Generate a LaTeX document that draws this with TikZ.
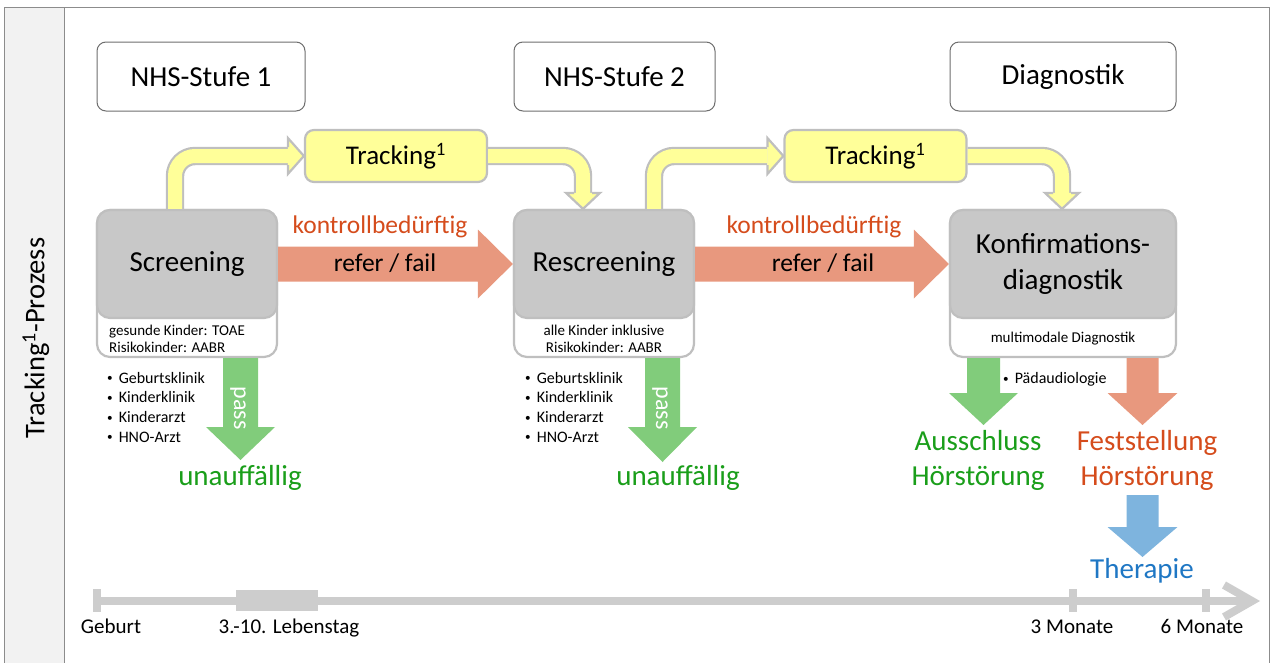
\documentclass[tikz,border=0pt]{standalone}
\usepackage{fontspec}
\setmainfont{Carlito}
\usetikzlibrary{calc}
\definecolor{boxgray}{RGB}{200,200,200}
\definecolor{bordgray}{RGB}{191,191,191}
\definecolor{headbord}{RGB}{110,110,110}
\definecolor{framegray}{RGB}{140,140,140}
\definecolor{stripfill}{RGB}{242,242,242}
\definecolor{trkyellow}{RGB}{255,255,153}
\definecolor{refred}{RGB}{232,152,126}
\definecolor{passgreen}{RGB}{129,204,123}
\definecolor{therblue}{RGB}{126,180,222}
\definecolor{txtred}{RGB}{213,76,28}
\definecolor{txtgreen}{RGB}{26,158,26}
\definecolor{txtblue}{RGB}{31,119,196}
\definecolor{linegray}{RGB}{205,205,205}
\newcommand{\fs}[2]{\fontsize{#1}{#2}\selectfont}
\newcommand{\bt}{\raisebox{1.5pt}{\scalebox{0.7}{\textbullet}}\hspace{6pt}}
% horizontal block arrow: style, from, to, half body, head length, half head
\newcommand{\rarrow}[6]{%
  \path[#1] let \p1=(#2), \p2=(#3) in
   (\x1,\y1+#4) -- (\x2-#5,\y1+#4) -- (\x2-#5,\y1+#6) -- (\x2,\y1)
   -- (\x2-#5,\y1-#6) -- (\x2-#5,\y1-#4) -- (\x1,\y1-#4) -- cycle;}
% downward block arrow
\newcommand{\darrow}[6]{%
  \path[#1] let \p1=(#2), \p2=(#3) in
   (\x1-#4,\y1) -- (\x1-#4,\y2+#5) -- (\x1-#6,\y2+#5) -- (\x1,\y2)
   -- (\x1+#6,\y2+#5) -- (\x1+#4,\y2+#5) -- (\x1+#4,\y1) -- cycle;}
\tikzset{
  headbox/.style={draw=headbord, line width=1, rounded corners=9, fill=white,
    minimum height=69, font=\fs{29}{34}},
  subbox/.style={draw=bordgray, line width=2.2, rounded corners=13, fill=white,
    minimum height=147},
  mainbox/.style={draw=bordgray, line width=2.2, rounded corners=13, fill=boxgray,
    minimum height=108, font=\fs{29}{36}, align=center},
  trkbox/.style={draw=bordgray, line width=2.2, rounded corners=9, fill=trkyellow,
    minimum width=182, minimum height=52, font=\fs{27}{32}},
  band/.style={draw=bordgray, line width=2.2, double=trkyellow, double distance=14,
    rounded corners=20},
  bandhead/.style={fill=trkyellow, draw=bordgray, line width=2.2, line join=miter},
  small/.style={font=\fs{15}{17}, inner sep=0},
  bul/.style={font=\fs{16}{19}, inner sep=0},
  big/.style={font=\fs{29}{34}, inner sep=0},
  mid/.style={font=\fs{25.5}{30}, inner sep=0},
  referfill/.style={fill=refred},
  passfill/.style={fill=passgreen},
  therfill/.style={fill=therblue},
  tline/.style={draw=linegray, line width=8},
  tick/.style={draw=linegray, line width=8},
  tlab/.style={font=\fs{21}{24}, inner sep=0, anchor=base},
}
\begin{document}
\begin{tikzpicture}[x=1pt,y=-1pt]
\useasboundingbox (0,0) rectangle (1272,662);
% frame and side strip
\fill[stripfill] (4,7) rectangle (64,664);
\draw[framegray, line width=1] (4,664) -- (4,7) -- (1269,7) -- (1269,664);
\draw[framegray, line width=1] (64,7) -- (64,664);
\node[rotate=90, font=\fs{28.5}{32}] (side) at (36,338) {Tracking\textsuperscript{1}-Prozess};

% header boxes
\node[headbox, minimum width=208] (h1) at (201,76.5) {NHS-Stufe 1};
\node[headbox, minimum width=201] (h2) at (614.5,76.5) {NHS-Stufe 2};
\node[headbox, minimum width=226] (h3) at (1063,76.5) {Diagnostik};

% main boxes
\node[subbox, minimum width=180] (scrS) at (187,283.5) {};
\node[mainbox, minimum width=180] (scr) at (187,264) {Screening};
\node[subbox, minimum width=180] (rscrS) at (604,283.5) {};
\node[mainbox, minimum width=180] (rscr) at (604,264) {Rescreening};
\node[subbox, minimum width=226] (konS) at (1063,283.5) {};
\node[mainbox, minimum width=226] (kon) at (1063,264) {Konfirmations-\\diagnostik};

\node[small, anchor=west, align=left] (scrT) at (109,338.5) {gesunde Kinder: TOAE\\Risikokinder: AABR};
\node[small, align=center] (rscrT) at (604,338.5) {alle Kinder inklusive\\Risikokinder: AABR};
\node[small] (konT) at (1063,339) {multimodale Diagnostik};

% tracking boxes
\node[trkbox] (trk1) at (396,156) {Tracking\textsuperscript{1}};
\node[trkbox] (trk2) at (875.5,156) {Tracking\textsuperscript{1}};

% yellow bent arrows
\draw[band] ([xshift=-12pt]scr.north) |- ([xshift=-16pt]trk1.west);
\filldraw[bandhead] ([xshift=-16pt,yshift=9pt]trk1.west) -- ([xshift=-16pt,yshift=18pt]trk1.west)
   -- (trk1.west) -- ([xshift=-16pt,yshift=-18pt]trk1.west) -- ([xshift=-16pt,yshift=-9pt]trk1.west);
\draw[band] (trk1.east) -| ([xshift=-21pt,yshift=16pt]rscr.north);
\filldraw[bandhead] ([xshift=-30pt,yshift=16pt]rscr.north) -- ([xshift=-38pt,yshift=16pt]rscr.north)
   -- ([xshift=-21pt]rscr.north) -- ([xshift=-4pt,yshift=16pt]rscr.north) -- ([xshift=-12pt,yshift=16pt]rscr.north);

\draw[band] ([xshift=50pt]rscr.north) |- ([xshift=-16pt]trk2.west);
\filldraw[bandhead] ([xshift=-16pt,yshift=9pt]trk2.west) -- ([xshift=-16pt,yshift=18pt]trk2.west)
   -- (trk2.west) -- ([xshift=-16pt,yshift=-18pt]trk2.west) -- ([xshift=-16pt,yshift=-9pt]trk2.west);
\draw[band] (trk2.east) -| ([xshift=-1pt,yshift=16pt]kon.north);
\filldraw[bandhead] ([xshift=-10pt,yshift=16pt]kon.north) -- ([xshift=-18pt,yshift=16pt]kon.north)
   -- ([xshift=-1pt]kon.north) -- ([xshift=16pt,yshift=16pt]kon.north) -- ([xshift=8pt,yshift=16pt]kon.north);

% refer arrows
\rarrow{referfill}{scr.east}{rscr.west}{17.5pt}{35pt}{34.5pt}
\rarrow{referfill}{rscr.east}{kon.west}{17.5pt}{35pt}{34.5pt}
\node[mid, text=txtred] (k1) at (380,227) {kontrollbedürftig};
\node[mid] (rf1) at (385,263) {refer / fail};
\node[mid, text=txtred] (k2) at (814,227) {kontrollbedürftig};
\node[mid] (rf2) at (823,263) {refer / fail};

% pass arrows
\coordinate (tip1) at (240.5,460);
\coordinate (tip2) at (662.5,462);
\darrow{passfill}{scrS.south -| tip1}{tip1}{17.5pt}{33pt}{34.5pt}
\darrow{passfill}{rscrS.south -| tip2}{tip2}{17.5pt}{35pt}{34.5pt}
\node[rotate=-90, text=white, font=\fs{24}{28}] (pass1) at (238,408) {pass};
\node[rotate=-90, text=white, font=\fs{24}{28}] (pass2) at (660,408) {pass};
\node[big, anchor=base, text=txtgreen] (u1) at (240,485) {unauffällig};
\node[big, anchor=base, text=txtgreen] (u2) at (678,485) {unauffällig};

% bullet lists
\foreach \t [count=\i] in {Geburtsklinik,Kinderklinik,Kinderarzt,HNO-Arzt} {
  \node[bul, anchor=base west] (bl\i) at (107,363.5+19.7*\i) {\bt\t};
  \node[bul, anchor=base west] (br\i) at (525,363.5+19.7*\i) {\bt\t};
}
\node[bul, anchor=base west] (pad) at (1003,383.5) {\bt Pädaudiologie};

% diagnostic outcome arrows
\coordinate (tip3) at (983.5,425);
\coordinate (tip4) at (1142.5,425);
\darrow{passfill}{konS.south -| tip3}{tip3}{16.5pt}{32pt}{34.5pt}
\darrow{referfill}{konS.south -| tip4}{tip4}{16pt}{32pt}{35pt}
\node[big, anchor=base, text=txtgreen] (a1) at (978,450) {Ausschluss};
\node[big, anchor=base, text=txtgreen] (a2) at (978,485) {Hörstörung};
\node[big, anchor=base, text=txtred] (f1) at (1147,450) {Feststellung};
\node[big, anchor=base, text=txtred] (f2) at (1147,485) {Hörstörung};
\coordinate (btop) at (1142.5,495);
\coordinate (tip5) at (1142.5,557);
\darrow{therfill}{btop}{tip5}{16pt}{30pt}{35pt}
\node[big, anchor=base, text=txtblue] (th) at (1142,578) {Therapie};

% timeline
\coordinate (t0) at (93,601);
\coordinate (t1) at (1252,601);
\draw[tline] (t0) -- (t1);
\draw[draw=linegray, line width=8, line join=miter, line cap=butt] (1224,585) -- (1252,601) -- (1224,617);
\draw[tick] (97,589) -- (97,612);
\draw[tick] (1073,589) -- (1073,612);
\draw[tick] (1206,589) -- (1206,612);
\fill[linegray] (236,590) rectangle (318,611);
\node[tlab] (g) at (111,633) {Geburt};
\node[tlab] (lt) at (289,633) {3.-10. Lebenstag};
\node[tlab] (m3) at (1072,633) {3 Monate};
\node[tlab] (m6) at (1202,633) {6 Monate};
\end{tikzpicture}
\end{document}
